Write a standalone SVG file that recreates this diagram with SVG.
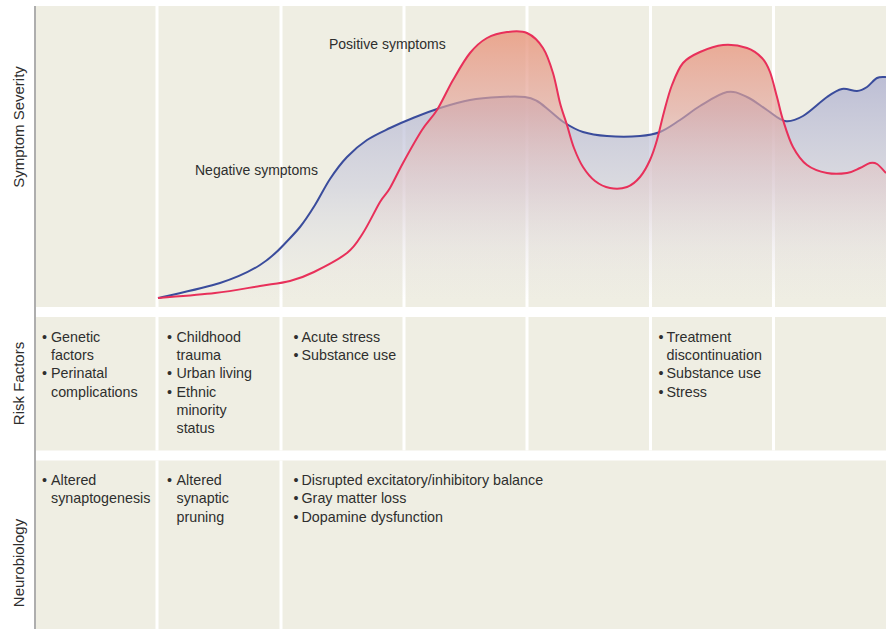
<svg xmlns="http://www.w3.org/2000/svg" width="886" height="629" viewBox="0 0 886 629">
<style>
.panel{fill:#efeee3}
.div{fill:#ffffff}
.t{font-family:"Liberation Sans",Arial,sans-serif;font-size:14.3px;fill:#2e2e2e}
.ax{font-family:"Liberation Sans",Arial,sans-serif;font-size:15px;fill:#2e2e2e;text-anchor:middle}
.lbl{font-family:"Liberation Sans",Arial,sans-serif;font-size:14px;fill:#2e2e2e}
.blue{fill:none;stroke:#3a4c9c;stroke-width:2}
.red{fill:none;stroke:#e8305a;stroke-width:2}
</style>
<defs>
<linearGradient id="gBlue" gradientUnits="userSpaceOnUse" x1="0" y1="75" x2="0" y2="300">
<stop offset="0" stop-color="#b3b5d2" stop-opacity="0.85"/>
<stop offset="0.5" stop-color="#c9cadd" stop-opacity="0.55"/>
<stop offset="0.85" stop-color="#dcdde6" stop-opacity="0.15"/>
<stop offset="1" stop-color="#dcdde6" stop-opacity="0"/>
</linearGradient>
<linearGradient id="gRed" gradientUnits="userSpaceOnUse" x1="0" y1="30" x2="0" y2="300">
<stop offset="0" stop-color="#e9967b" stop-opacity="0.82"/>
<stop offset="0.3" stop-color="#e3a79e" stop-opacity="0.65"/>
<stop offset="0.55" stop-color="#e6c2c0" stop-opacity="0.42"/>
<stop offset="0.8" stop-color="#ecdcd8" stop-opacity="0.18"/>
<stop offset="1" stop-color="#efe3dc" stop-opacity="0"/>
</linearGradient>
</defs>
<rect x="0" y="0" width="886" height="629" fill="#ffffff"/>
<g id="panels">
<rect class="panel" x="36" y="6" width="850" height="301"/>
<rect class="panel" x="36" y="317" width="850" height="133.5"/>
<rect class="panel" x="36" y="460.5" width="850" height="168.5"/>
<rect class="div" x="155.5" y="6" width="3" height="444.5"/>
<rect class="div" x="279.5" y="6" width="3" height="444.5"/>
<rect class="div" x="402.5" y="6" width="3" height="444.5"/>
<rect class="div" x="525.5" y="6" width="3" height="444.5"/>
<rect class="div" x="649" y="6" width="3" height="444.5"/>
<rect class="div" x="772" y="6" width="3" height="444.5"/>
<rect class="div" x="155.5" y="460.5" width="3" height="168.5"/>
<rect class="div" x="279.5" y="460.5" width="3" height="168.5"/>
<line x1="35" y1="6" x2="35" y2="629" stroke="#9a9a9a" stroke-width="1.6"/>
</g>
<g id="axis-labels">
<text class="ax" transform="translate(23.5,127) rotate(-90)">Symptom Severity</text>
<text class="ax" transform="translate(23.5,383.5) rotate(-90)">Risk Factors</text>
<text class="ax" transform="translate(23.5,563) rotate(-90)">Neurobiology</text>
</g>
<g id="curves">
<path id="negative-fill" fill="url(#gBlue)" stroke="none" d="M158,298 C168.3,295.5 203,288.5 220,283 C237,277.5 249.2,271.8 260,265 C270.8,258.2 277.5,251.5 284,244.5 C290.5,237.5 295,233.2 300,227 C305,220.8 310,213 315,205 C320,197 324.7,187 330,179 C335.3,171 340.8,163.5 347,157 C353.2,150.5 359.8,144.8 367,140 C374.2,135.2 382.3,131.7 390,128 C397.7,124.3 404.7,121.3 413,118 C421.3,114.7 430.5,111 440,108 C449.5,105 460,101.8 470,100 C480,98.2 490.8,97.5 500,97 C509.2,96.5 518.8,96.3 525,97 C531.2,97.7 532.8,98.7 537,101 C541.2,103.3 545.3,107.3 550,111 C554.7,114.7 559.5,119.5 565,123 C570.5,126.5 576,129.8 583,132 C590,134.2 597.5,135.3 607,136 C616.5,136.7 631.2,136.7 640,136 C648.8,135.3 653.3,134.7 660,132 C666.7,129.3 673.3,124.3 680,120 C686.7,115.7 692.2,110.7 700,106 C707.8,101.3 719.2,93.5 727,92 C734.8,90.5 740.3,94 747,97 C753.7,100 760.7,106 767,110 C773.3,114 779,120 785,121 C791,122 796,120 803,116 C810,112 820.5,101.5 827,97 C833.5,92.5 837,90 842,89 C847,88 852.8,91.3 857,91 C861.2,90.7 863.7,89.2 867,87 C870.3,84.8 873.8,79.7 877,78 C880.2,76.3 884.5,77.2 886,77 L886,300 L158,300 Z"/>
<path id="negative-line" class="blue" d="M158,298 C168.3,295.5 203,288.5 220,283 C237,277.5 249.2,271.8 260,265 C270.8,258.2 277.5,251.5 284,244.5 C290.5,237.5 295,233.2 300,227 C305,220.8 310,213 315,205 C320,197 324.7,187 330,179 C335.3,171 340.8,163.5 347,157 C353.2,150.5 359.8,144.8 367,140 C374.2,135.2 382.3,131.7 390,128 C397.7,124.3 404.7,121.3 413,118 C421.3,114.7 430.5,111 440,108 C449.5,105 460,101.8 470,100 C480,98.2 490.8,97.5 500,97 C509.2,96.5 518.8,96.3 525,97 C531.2,97.7 532.8,98.7 537,101 C541.2,103.3 545.3,107.3 550,111 C554.7,114.7 559.5,119.5 565,123 C570.5,126.5 576,129.8 583,132 C590,134.2 597.5,135.3 607,136 C616.5,136.7 631.2,136.7 640,136 C648.8,135.3 653.3,134.7 660,132 C666.7,129.3 673.3,124.3 680,120 C686.7,115.7 692.2,110.7 700,106 C707.8,101.3 719.2,93.5 727,92 C734.8,90.5 740.3,94 747,97 C753.7,100 760.7,106 767,110 C773.3,114 779,120 785,121 C791,122 796,120 803,116 C810,112 820.5,101.5 827,97 C833.5,92.5 837,90 842,89 C847,88 852.8,91.3 857,91 C861.2,90.7 863.7,89.2 867,87 C870.3,84.8 873.8,79.7 877,78 C880.2,76.3 884.5,77.2 886,77"/>
<path id="positive-fill" fill="url(#gRed)" stroke="none" d="M158,298 C167.5,297.2 198,295 215,293 C232,291 247.5,288 260,286 C272.5,284 281,283.3 290,281 C299,278.7 304.5,276.7 314,272 C323.5,267.3 338.8,259.5 347,253 C355.2,246.5 357.5,241.5 363,233 C368.5,224.5 375.5,209.5 380,202 C384.5,194.5 386.2,194.5 390,188 C393.8,181.5 397.7,172.7 403,163 C408.3,153.3 416.3,138.8 422,130 C427.7,121.2 431.8,118.3 437,110 C442.2,101.7 447.5,89.5 453,80 C458.5,70.5 464.3,60 470,53 C475.7,46 480.8,41.5 487,38 C493.2,34.5 500.3,32.8 507,32 C513.7,31.2 521,30.3 527,33 C533,35.7 538.7,41.3 543,48 C547.3,54.7 550.2,63.8 553,73 C555.8,82.2 557.7,94.3 560,103 C562.3,111.7 564.7,117.5 567,125 C569.3,132.5 571.3,141 574,148 C576.7,155 579.5,161.5 583,167 C586.5,172.5 590.5,177.5 595,181 C599.5,184.5 604.7,187 610,188 C615.3,189 622,188.8 627,187 C632,185.2 636.2,181.5 640,177 C643.8,172.5 647.2,166.2 650,160 C652.8,153.8 654.7,148 657,140 C659.3,132 661.5,121.2 664,112 C666.5,102.8 668.8,93.2 672,85 C675.2,76.8 678.3,68.5 683,63 C687.7,57.5 693.3,55 700,52 C706.7,49 715.2,45.7 723,45 C730.8,44.3 740.5,45.8 747,48 C753.5,50.2 758.2,54 762,58 C765.8,62 767.5,65.5 770,72 C772.5,78.5 774.8,89 777,97 C779.2,105 780.3,111.7 783,120 C785.7,128.3 789,139.5 793,147 C797,154.5 801.3,160.7 807,165 C812.7,169.3 820.3,171.7 827,173 C833.7,174.3 841.5,173.8 847,173 C852.5,172.2 856.2,169.7 860,168 C863.8,166.3 867.2,163.7 870,163 C872.8,162.3 874.3,162.3 877,164 C879.7,165.7 884.5,171.5 886,173 L886,300 L158,300 Z"/>
<path id="positive-line" class="red" d="M158,298 C167.5,297.2 198,295 215,293 C232,291 247.5,288 260,286 C272.5,284 281,283.3 290,281 C299,278.7 304.5,276.7 314,272 C323.5,267.3 338.8,259.5 347,253 C355.2,246.5 357.5,241.5 363,233 C368.5,224.5 375.5,209.5 380,202 C384.5,194.5 386.2,194.5 390,188 C393.8,181.5 397.7,172.7 403,163 C408.3,153.3 416.3,138.8 422,130 C427.7,121.2 431.8,118.3 437,110 C442.2,101.7 447.5,89.5 453,80 C458.5,70.5 464.3,60 470,53 C475.7,46 480.8,41.5 487,38 C493.2,34.5 500.3,32.8 507,32 C513.7,31.2 521,30.3 527,33 C533,35.7 538.7,41.3 543,48 C547.3,54.7 550.2,63.8 553,73 C555.8,82.2 557.7,94.3 560,103 C562.3,111.7 564.7,117.5 567,125 C569.3,132.5 571.3,141 574,148 C576.7,155 579.5,161.5 583,167 C586.5,172.5 590.5,177.5 595,181 C599.5,184.5 604.7,187 610,188 C615.3,189 622,188.8 627,187 C632,185.2 636.2,181.5 640,177 C643.8,172.5 647.2,166.2 650,160 C652.8,153.8 654.7,148 657,140 C659.3,132 661.5,121.2 664,112 C666.5,102.8 668.8,93.2 672,85 C675.2,76.8 678.3,68.5 683,63 C687.7,57.5 693.3,55 700,52 C706.7,49 715.2,45.7 723,45 C730.8,44.3 740.5,45.8 747,48 C753.5,50.2 758.2,54 762,58 C765.8,62 767.5,65.5 770,72 C772.5,78.5 774.8,89 777,97 C779.2,105 780.3,111.7 783,120 C785.7,128.3 789,139.5 793,147 C797,154.5 801.3,160.7 807,165 C812.7,169.3 820.3,171.7 827,173 C833.7,174.3 841.5,173.8 847,173 C852.5,172.2 856.2,169.7 860,168 C863.8,166.3 867.2,163.7 870,163 C872.8,162.3 874.3,162.3 877,164 C879.7,165.7 884.5,171.5 886,173"/>
</g>
<g id="curve-labels">
<text class="lbl" x="329" y="48.5">Positive symptoms</text>
<text class="lbl" x="195" y="174.5">Negative symptoms</text>
</g>
<g id="risk-col1">
<text class="t"><tspan x="42" y="341.7">•</tspan><tspan x="51" y="341.7">Genetic</tspan><tspan x="51" y="360">factors</tspan><tspan x="42" y="378.3">•</tspan><tspan x="51" y="378.3">Perinatal</tspan><tspan x="51" y="396.7">complications</tspan></text>
</g>
<g id="risk-col2">
<text class="t"><tspan x="167" y="341.7">•</tspan><tspan x="176.5" y="341.7">Childhood</tspan><tspan x="176.5" y="360">trauma</tspan><tspan x="167" y="378.3">•</tspan><tspan x="176.5" y="378.3">Urban living</tspan><tspan x="167" y="396.7">•</tspan><tspan x="176.5" y="396.7">Ethnic</tspan><tspan x="176.5" y="415">minority</tspan><tspan x="176.5" y="433.3">status</tspan></text>
</g>
<g id="risk-col3">
<text class="t"><tspan x="293.5" y="341.7">•</tspan><tspan x="301.5" y="341.7">Acute stress</tspan><tspan x="293.5" y="360">•</tspan><tspan x="301.5" y="360">Substance use</tspan></text>
</g>
<g id="risk-col6">
<text class="t"><tspan x="658.5" y="341.7">•</tspan><tspan x="666.5" y="341.7">Treatment</tspan><tspan x="666.5" y="360">discontinuation</tspan><tspan x="658.5" y="378.3">•</tspan><tspan x="666.5" y="378.3">Substance use</tspan><tspan x="658.5" y="396.7">•</tspan><tspan x="666.5" y="396.7">Stress</tspan></text>
</g>
<g id="neuro-col1">
<text class="t"><tspan x="42" y="485">•</tspan><tspan x="51" y="485">Altered</tspan><tspan x="51" y="503.3">synaptogenesis</tspan></text>
</g>
<g id="neuro-col2">
<text class="t"><tspan x="167" y="485">•</tspan><tspan x="176.5" y="485">Altered</tspan><tspan x="176.5" y="503.3">synaptic</tspan><tspan x="176.5" y="521.7">pruning</tspan></text>
</g>
<g id="neuro-col3">
<text class="t"><tspan x="293.5" y="485">•</tspan><tspan x="301.5" y="485">Disrupted excitatory/inhibitory balance</tspan><tspan x="293.5" y="503.3">•</tspan><tspan x="301.5" y="503.3">Gray matter loss</tspan><tspan x="293.5" y="521.7">•</tspan><tspan x="301.5" y="521.7">Dopamine dysfunction</tspan></text>
</g>
</svg>
